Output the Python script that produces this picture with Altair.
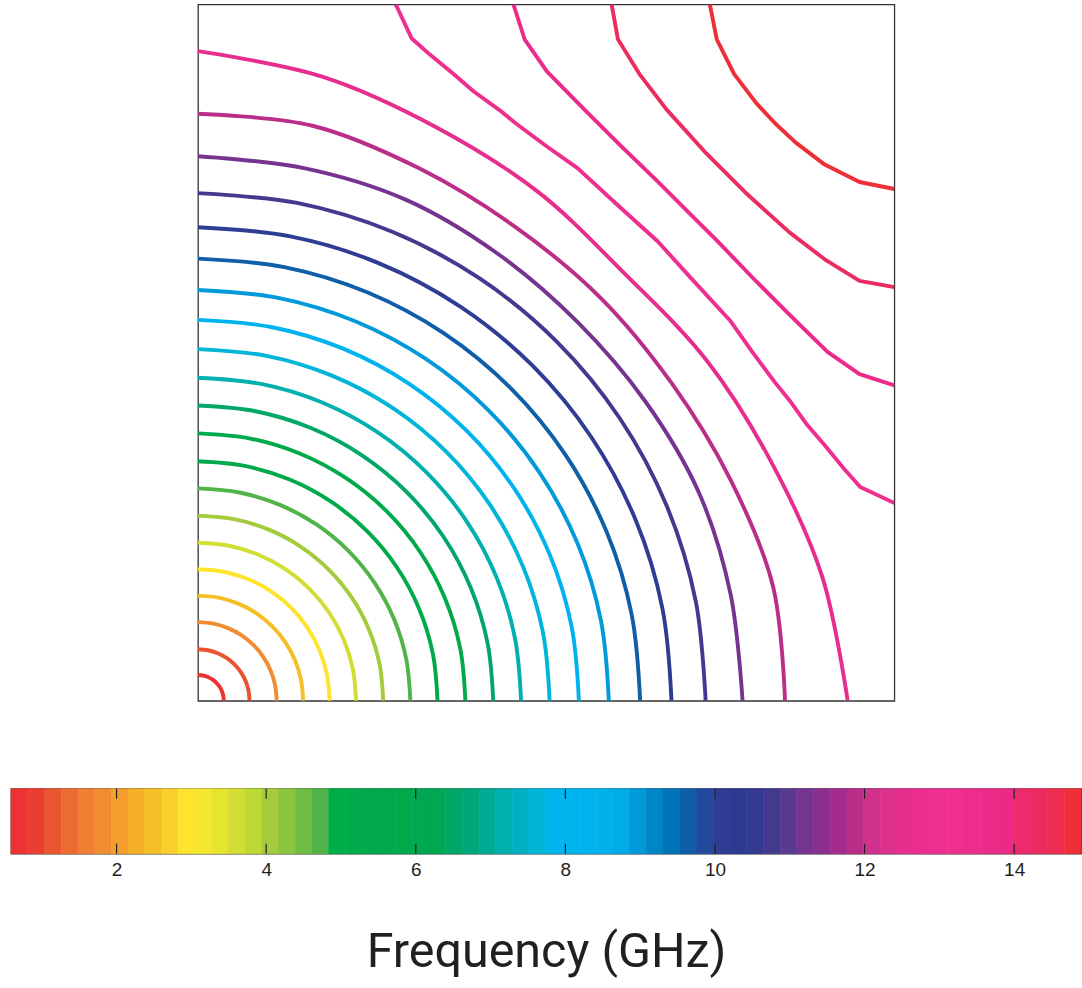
import math
import altair as alt
import pandas as pd

# ---------------- data ----------------
# 25 contour levels (GHz), spanning the colour-bar range
LEVELS = [0.59, 1.19, 1.78, 2.38, 2.97, 3.57, 4.16, 4.76, 5.36, 5.95,
          6.55, 7.14, 7.74, 8.33, 8.93, 9.53, 10.12, 10.72, 11.31, 11.91,
          12.50, 13.10, 13.70, 14.29, 14.89]

# contours 1-18 are circular arcs about the origin; radius as a fraction of the zone
ARC_RADIUS = [0.037, 0.074, 0.113, 0.151, 0.189, 0.227, 0.266, 0.305, 0.344,
              0.384, 0.424, 0.464, 0.505, 0.547, 0.590, 0.635, 0.680, 0.729]

# contours 19-21: radius read at these angles (deg), symmetric about 45 deg
RAY_ANGLES = [0, 11.25, 22.5, 33.75, 45]
OUTER_RADII = [
    [0.782, 0.780, 0.779, 0.773, 0.770],
    [0.843, 0.842, 0.828, 0.819, 0.818],
    [0.933, 0.914, 0.892, 0.879, 0.867],
]

# contours 22-25 around the zone corner: vertices (kx, ky)
CORNER_X = [
    [0.284, 0.307, 0.333, 0.367, 0.396, 0.432, 0.458, 0.501, 0.545, 0.608, 0.660,
     0.707, 0.765, 0.796, 0.828, 0.849, 0.875, 0.900, 0.928, 0.951, 1.000],
    [0.453, 0.469, 0.501, 0.555, 0.605, 0.660, 0.703, 0.746, 0.799, 0.849,
     0.904, 0.950, 1.000],
    [0.594, 0.603, 0.634, 0.673, 0.730, 0.758, 0.786, 0.849, 0.900, 0.950, 1.000],
    [0.735, 0.745, 0.770, 0.802, 0.829, 0.858, 0.900, 0.950, 1.000],
]
CORNER_Y = [
    [1.000, 0.951, 0.928, 0.900, 0.875, 0.849, 0.828, 0.796, 0.765, 0.707, 0.660,
     0.608, 0.545, 0.501, 0.458, 0.432, 0.396, 0.367, 0.333, 0.307, 0.284],
    [1.000, 0.950, 0.904, 0.849, 0.799, 0.746, 0.703, 0.660, 0.605, 0.555,
     0.501, 0.469, 0.453],
    [1.000, 0.950, 0.900, 0.849, 0.786, 0.758, 0.730, 0.673, 0.634, 0.603, 0.594],
    [1.000, 0.950, 0.900, 0.858, 0.829, 0.802, 0.770, 0.745, 0.735],
]

# colour-bar
CBAR_MIN, CBAR_MAX = 0.589, 14.894
CBAR_TICKS = [2, 4, 6, 8, 10, 12, 14]
CBAR_COLORS = [
    "#EE3133", "#EC3D31", "#EA5430", "#EE6A33", "#F07E33", "#F18C33", "#F59E2E", "#F6AF27",
    "#F5BF27", "#F9D12A", "#FEE42C", "#F4E82F", "#E4E62E", "#D2DE33", "#BED835", "#A4CB3B",
    "#8BC43F", "#6FBC45", "#51B448", "#00AE48", "#00AB4A", "#00AA4B", "#00AA4B", "#00AA4B",
    "#00A852", "#00A852", "#00A767", "#00A77B", "#00AA96", "#00B0AE", "#00B1C4", "#00B5D8",
    "#00B4EE", "#00B4EE", "#00B3EE", "#00B1EC", "#00ABE7", "#0099D9", "#0085C6", "#0072B8",
    "#0E5EA8", "#22499B", "#2E3D93", "#2E3A92", "#333A91", "#433A8F", "#5A3A91", "#763490",
    "#8B318D", "#A42B8E", "#BA2E8A", "#CF318D", "#DC318D", "#E72D8D", "#EC2D8F", "#EE2F8F",
    "#EE2F8F", "#EC2D8C", "#EC2A89", "#EC2A86", "#ED2A6C", "#EC2B60", "#EE2C50", "#EE2F38",
]

# ---------------- build tables ----------------
rows = []
cid = 0


def add_arc(radii, level):
    global cid
    full_angles = RAY_ANGLES + [90 - a for a in reversed(RAY_ANGLES[:-1])]
    full_radii = radii + list(reversed(radii[:-1]))
    for i, (a, r) in enumerate(zip(full_angles, full_radii)):
        t = math.radians(a)
        rows.append({"c": cid, "i": i, "kx": r * math.cos(t), "ky": r * math.sin(t),
                     "level": level, "kind": "arc"})
    cid += 1


for k, r in enumerate(ARC_RADIUS):
    add_arc([r] * len(RAY_ANGLES), LEVELS[k])
for k, radii in enumerate(OUTER_RADII):
    add_arc(radii, LEVELS[len(ARC_RADIUS) + k])
for k, (xs_, ys_) in enumerate(zip(CORNER_X, CORNER_Y)):
    lev = LEVELS[len(ARC_RADIUS) + len(OUTER_RADII) + k]
    for i, (x, y) in enumerate(zip(xs_, ys_)):
        rows.append({"c": cid, "i": i, "kx": x, "ky": y, "level": lev, "kind": "corner"})
    cid += 1

df = pd.DataFrame(rows)

color_scale = alt.Scale(type="quantize", domain=[CBAR_MIN, CBAR_MAX], range=CBAR_COLORS)
xs = alt.Scale(domain=[0, 1], nice=False, zero=False)
ys = alt.Scale(domain=[0, 1], nice=False, zero=False)

LW = 3.9
base = alt.Chart(df).encode(
    x=alt.X("kx:Q", scale=xs, axis=None),
    y=alt.Y("ky:Q", scale=ys, axis=None),
    detail="c:N",
    order="i:Q",
    color=alt.Color("level:Q", scale=color_scale, legend=None),
)
arcs = base.mark_line(interpolate="catmull-rom", strokeWidth=LW, clip=True).transform_filter(
    alt.datum.kind == "arc")
corners = base.mark_line(interpolate="linear", strokeWidth=LW, clip=True,
                         strokeJoin="round").transform_filter(alt.datum.kind == "corner")

contours = alt.layer(arcs, corners).properties(width=697, height=697)

# colour-bar
step = (CBAR_MAX - CBAR_MIN) / len(CBAR_COLORS)
cb = pd.DataFrame({
    "x0": [CBAR_MIN + i * step for i in range(len(CBAR_COLORS))],
    "x1": [CBAR_MIN + (i + 1) * step for i in range(len(CBAR_COLORS))],
    "col": CBAR_COLORS,
})
ticks = pd.DataFrame({"t": CBAR_TICKS})
cbx = alt.Scale(domain=[CBAR_MIN, CBAR_MAX], nice=False, zero=False)
CB_H = 65

bar = alt.Chart(cb).mark_rect(strokeWidth=0.6).encode(
    x=alt.X("x0:Q", scale=cbx, axis=alt.Axis(
        values=CBAR_TICKS, format="d", ticks=False, tickSize=0, domain=False, grid=False,
        labelFontSize=19, labelFont="Liberation Sans, Arial, sans-serif", labelColor="#231F20",
        labelPadding=7, labelFlush=False,
        title="Frequency (GHz)", titleFont="Roboto", titleFontSize=48.5,
        titleFontWeight="normal", titleColor="#231F20", titleY=113,
        titleBaseline="alphabetic")),
    x2="x1:Q",
    y=alt.value(0),
    y2=alt.value(CB_H),
    fill=alt.Fill("col:N", scale=None),
    stroke=alt.Stroke("col:N", scale=None),
)
tick_top = alt.Chart(ticks).mark_rule(color="#231F20", strokeWidth=1.2).encode(
    x=alt.X("t:Q", scale=cbx), y=alt.value(0), y2=alt.value(10))
tick_bot = alt.Chart(ticks).mark_rule(color="#231F20", strokeWidth=1.2).encode(
    x=alt.X("t:Q", scale=cbx), y=alt.value(CB_H - 10), y2=alt.value(CB_H))

colorbar = alt.layer(bar, tick_top, tick_bot).properties(width=1071, height=CB_H)

chart = alt.vconcat(contours, colorbar, spacing=85, center=True).properties(
    padding={"left": 10, "top": 3, "right": 0, "bottom": 0},
    background="white",
).configure_view(stroke="#333333", strokeWidth=1.3)

chart.save("out.html", embed_options={"renderer": "svg", "actions": False})
